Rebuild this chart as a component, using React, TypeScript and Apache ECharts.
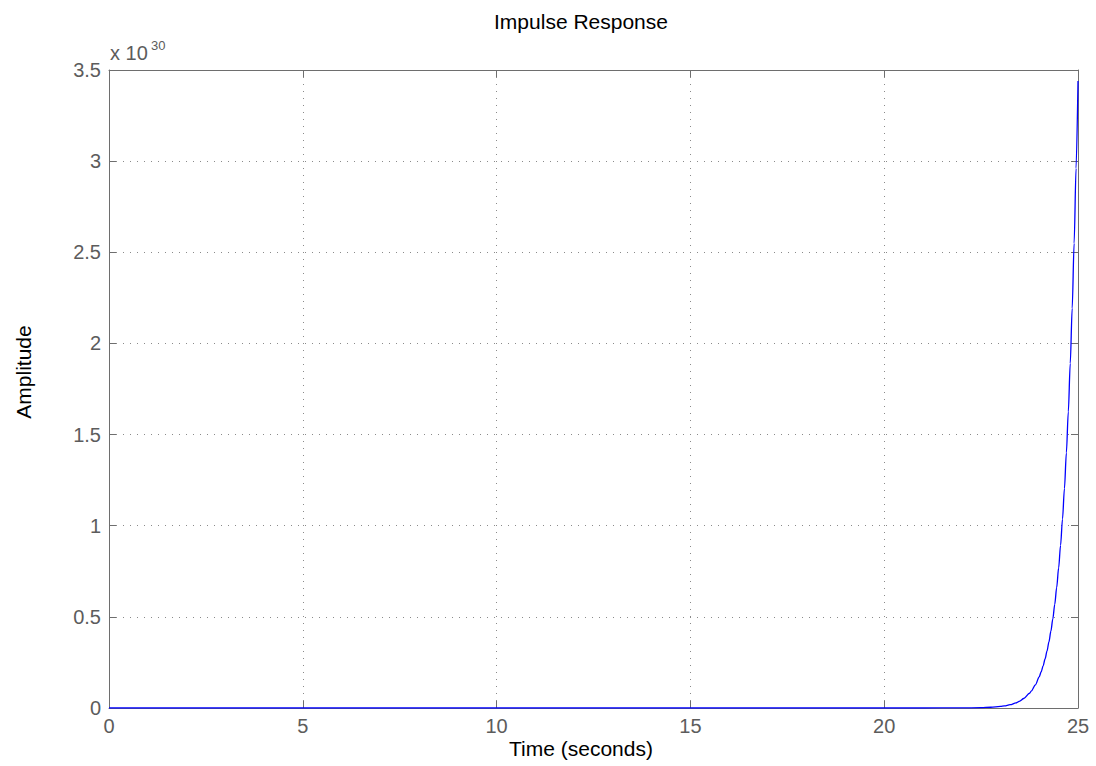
import React, { useEffect, useRef } from "react";
import * as echarts from "echarts";

const titleText = "Impulse Response";
const xName = "Time (seconds)";
const yName = "Amplitude";
const xTicks = [0, 5, 10, 15, 20, 25];
const yTicks = [0, 0.5, 1, 1.5, 2, 2.5, 3, 3.5];
// time (s) and amplitude (x 10^30)
const timeValues = [0, 5, 10, 15, 20, 21, 22, 22.5, 22.75, 23, 23.1, 23.25, 23.4, 23.5, 23.6, 23.75, 23.8, 23.9, 24, 24.05, 24.1, 24.15, 24.2, 24.25, 24.3, 24.35, 24.4, 24.45, 24.5, 24.55, 24.6, 24.65, 24.7, 24.75, 24.8, 24.85, 24.9, 24.95, 25];
const amplitudeValues = [0, 0, 0, 0, 0, 0.0001, 0.0004, 0.002, 0.004, 0.0085, 0.0115, 0.018, 0.028, 0.038, 0.052, 0.081, 0.094, 0.127, 0.171, 0.199, 0.231, 0.269, 0.312, 0.363, 0.421, 0.489, 0.569, 0.661, 0.768, 0.892, 1.036, 1.204, 1.4, 1.625, 1.89, 2.193, 2.55, 2.961, 3.44];

export default function App() {
  const ref = useRef<HTMLDivElement>(null);
  useEffect(() => {
    if (!ref.current) return;
    const chart = echarts.init(ref.current, null, { renderer: "svg" });
    const font = "'Liberation Sans', Arial, sans-serif";
    const gray = "#5c5c5c";
    const axisLine = { show: true, onZero: false, lineStyle: { color: "#6e6e6e", width: 1 } };
    const tickInside = { show: true, inside: true, length: 7, lineStyle: { color: "#6e6e6e" } };
    const grid = { show: true, lineStyle: { color: "#8a8a8a", type: [1, 6], width: 1 } };
    const data = timeValues.map((t, i) => [t, amplitudeValues[i]]);
    chart.setOption({
      animation: false,
      backgroundColor: "#fff",
      grid: { left: 109, right: 18, top: 70, bottom: 58, containLabel: false },
      xAxis: [
        {
          type: "value",
          min: xTicks[0],
          max: xTicks[xTicks.length - 1],
          interval: 5,
          position: "bottom",
          axisLine,
          axisTick: tickInside,
          axisLabel: { color: gray, fontFamily: font, fontSize: 20, margin: 8 },
          splitLine: grid,
        },
        {
          type: "value",
          min: xTicks[0],
          max: xTicks[xTicks.length - 1],
          interval: 5,
          position: "top",
          axisLine,
          axisTick: tickInside,
          axisLabel: { show: false },
          splitLine: { show: false },
        },
      ],
      yAxis: [
        {
          type: "value",
          min: yTicks[0],
          max: yTicks[yTicks.length - 1],
          interval: 0.5,
          position: "left",
          axisLine,
          axisTick: tickInside,
          axisLabel: { color: gray, fontFamily: font, fontSize: 20, margin: 8, formatter: (v: number) => String(v) },
          splitLine: grid,
        },
        {
          type: "value",
          min: yTicks[0],
          max: yTicks[yTicks.length - 1],
          interval: 0.5,
          position: "right",
          axisLine,
          axisTick: tickInside,
          axisLabel: { show: false },
          splitLine: { show: false },
        },
      ],
      graphic: [
        {
          type: "text",
          x: 581,
          y: 21,
          style: { text: titleText, font: `21px ${font}`, fill: "#000", align: "center", verticalAlign: "middle" },
        },
        {
          type: "text",
          x: 581,
          y: 748,
          style: { text: xName, font: `21px ${font}`, fill: "#000", align: "center", verticalAlign: "middle" },
        },
        {
          type: "text",
          x: 23,
          y: 372,
          rotation: Math.PI / 2,
          style: { text: yName, font: `21px ${font}`, fill: "#000", align: "center", verticalAlign: "middle" },
        },
        {
          type: "text",
          x: 110,
          y: 63,
          style: { text: "x 10", font: `20px ${font}`, fill: gray, align: "left", verticalAlign: "bottom" },
        },
        {
          type: "text",
          x: 151,
          y: 52,
          style: { text: "30", font: `13px ${font}`, fill: gray, align: "left", verticalAlign: "bottom" },
        },
      ],
      series: [
        {
          type: "line",
          data,
          xAxisIndex: 0,
          yAxisIndex: 0,
          showSymbol: false,
          smooth: 0.3,
          smoothMonotone: "x",
          lineStyle: { color: "#0000ff", width: 1.3 },
          itemStyle: { color: "#0000ff" },
        },
      ],
    });
    return () => chart.dispose();
  }, []);
  return <div ref={ref} style={{ position: "fixed", left: 0, top: 0, width: 1096, height: 766 }} />;
}
